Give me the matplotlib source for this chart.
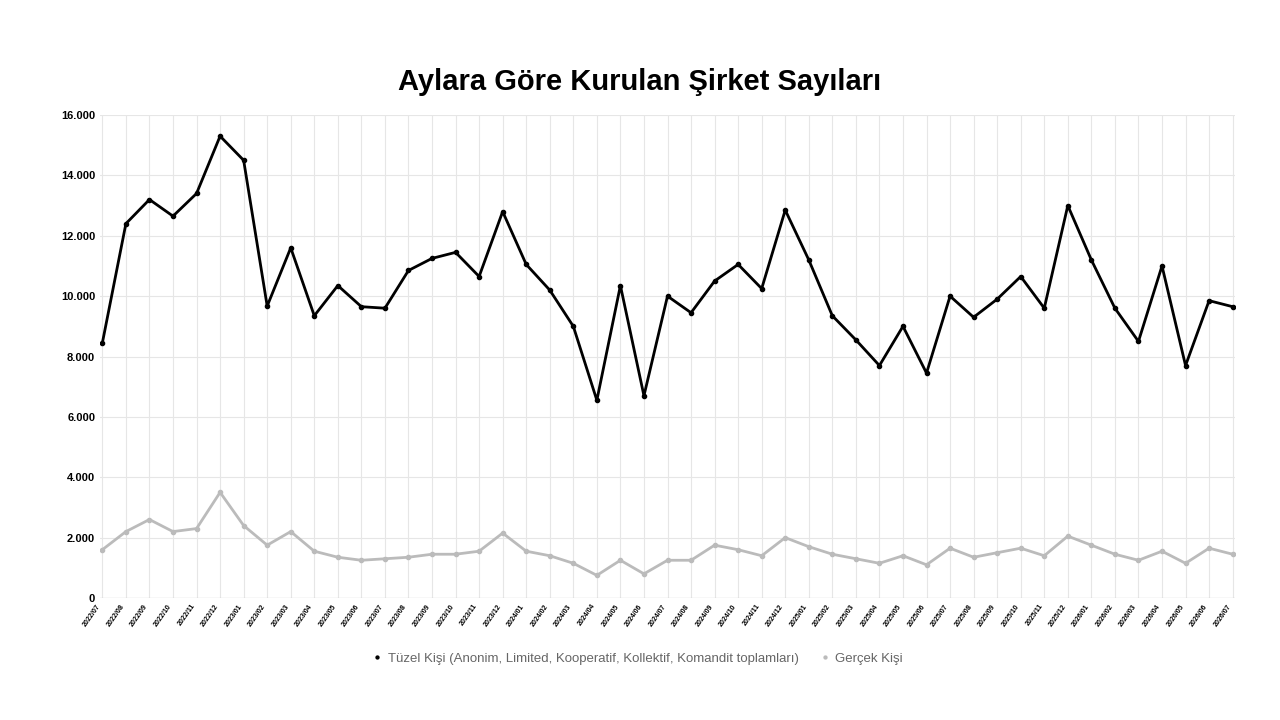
import matplotlib.pyplot as plt
from matplotlib.ticker import FuncFormatter

plt.rcParams['font.family'] = ['Liberation Sans', 'DejaVu Sans']

months = [f"{y}/{m:02d}" for y in range(2022, 2027) for m in range(1, 13)][6:55]
tuzel = [8450, 12400, 13200, 12650, 13400, 15300, 14500, 9670, 11600, 9350,
         10350, 9650, 9600, 10850, 11250, 11450, 10650, 12800, 11050, 10200,
         9000, 6550, 10350, 6700, 10000, 9450, 10500, 11050, 10250, 12850,
         11200, 9350, 8550, 7700, 9000, 7450, 10000, 9300, 9900, 10650,
         9600, 13000, 11200, 9600, 8500, 11000, 7700, 9850, 9650]
gercek = [1600, 2200, 2600, 2200, 2300, 3500, 2400, 1750, 2200, 1550,
          1350, 1250, 1300, 1350, 1450, 1450, 1550, 2150, 1550, 1400,
          1150, 750, 1250, 800, 1250, 1250, 1750, 1600, 1400, 2000,
          1700, 1450, 1300, 1150, 1400, 1100, 1650, 1350, 1500, 1650,
          1400, 2050, 1750, 1450, 1250, 1550, 1150, 1650, 1450]

fig = plt.figure(figsize=(12.8, 7.2), dpi=100)
ax = fig.add_axes([100/1280, 1 - 598/720, 1135/1280, 483/720])
x = range(len(months))
ax.plot(x, tuzel, color='black', lw=2, marker='o', ms=3,
        label='Tüzel Kişi (Anonim, Limited, Kooperatif, Kollektif, Komandit toplamları)')
ax.plot(x, gercek, color='#bbbbbb', lw=2, marker='o', ms=3, label='Gerçek Kişi')

ax.set_xlim(-0.1, len(months) - 0.9)
ax.set_ylim(0, 16000)
ax.set_yticks(range(0, 16001, 2000))
ax.yaxis.set_major_formatter(FuncFormatter(lambda v, p: f"{int(v):,}".replace(',', '.')))
ax.set_xticks(list(x))
ax.set_xticklabels(months, rotation=55, ha='right', fontsize=5, fontweight='bold')
ax.tick_params(axis='y', labelsize=8, length=0)
ax.tick_params(axis='x', length=0)
for lbl in ax.get_yticklabels():
    lbl.set_fontweight('bold')
ax.grid(True, color='#e6e6e6', lw=0.8)
for s in ax.spines.values():
    s.set_visible(False)
ax.axhline(0, color='#999999', lw=0.8)

fig.suptitle('Aylara Göre Kurulan Şirket Sayıları', y=0.905, fontsize=21, fontweight='bold')
fig.legend(loc='center', bbox_to_anchor=(0.5, 0.085), ncol=2, frameon=False,
           fontsize=9.5, labelcolor='#666666', handlelength=0, markerscale=0.7)
fig.savefig('out.png')
